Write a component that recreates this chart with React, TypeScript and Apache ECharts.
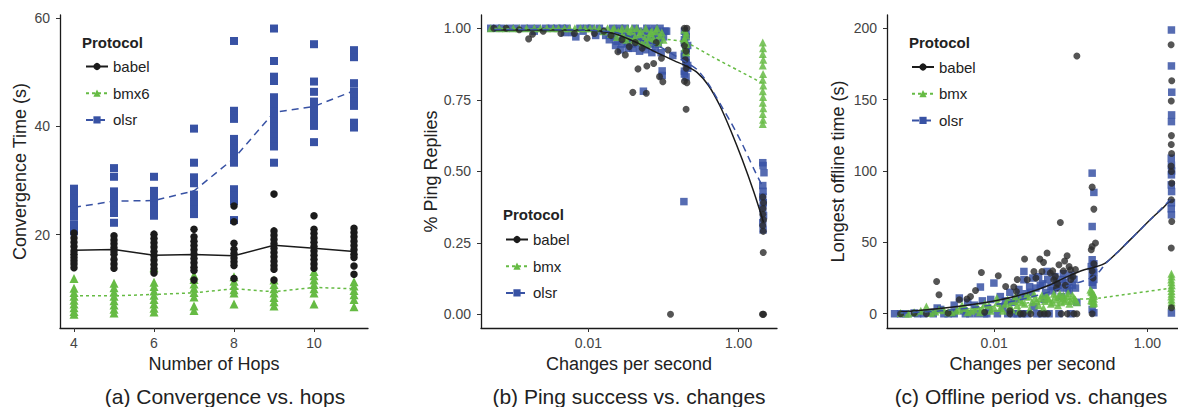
import React, { useEffect, useRef } from 'react';
import * as echarts from 'echarts';

const FONT = '"Liberation Sans", Arial, Helvetica, sans-serif';

// ---------- Panel (a): convergence vs hops ----------
const hopsA = [4, 5, 6, 7, 8, 9, 10, 11];
const babelMeanA = [17.1, 17.25, 16.2, 16.35, 16.1, 18.05, 17.5, 16.9];
const bmx6MeanA = [8.7, 8.7, 8.95, 9.25, 10.0, 9.45, 10.25, 10.0];
const olsrMeanA = [25.05, 26.2, 26.3, 28.1, 34.1, 42.6, 43.7, 46.6];

const babelRunsA = [
  [20.3, 19.4, 18.6, 17.8, 17.0, 16.4, 15.8, 15.2, 14.6, 13.9],
  [19.8, 19.0, 18.3, 17.6, 17.0, 16.4, 15.4, 14.6, 13.8],
  [20.1, 19.3, 18.5, 17.7, 16.9, 16.1, 15.3, 14.5, 13.7, 12.9],
  [21.0, 19.6, 18.8, 18.0, 17.2, 16.4, 15.6, 14.8, 14.0, 13.4, 11.6],
  [25.3, 22.4, 18.4, 17.3, 16.5, 15.7, 15.0, 14.3, 11.9],
  [27.5, 20.7, 19.9, 19.1, 18.3, 17.5, 16.7, 15.9, 15.1, 14.3, 13.6, 11.6],
  [23.5, 21.0, 20.2, 19.4, 18.6, 17.8, 17.0, 16.2, 15.4, 14.6, 13.8],
  [21.2, 20.4, 19.6, 18.8, 18.0, 17.2, 16.4, 15.8, 14.2, 12.7],
];
const bmx6RunsA = [
  [11.9, 10.1, 9.3, 8.6, 7.9, 7.2, 6.5, 5.8, 5.3],
  [11.0, 10.2, 9.4, 8.6, 7.8, 7.0, 6.2, 5.5],
  [13.9, 11.2, 10.4, 9.6, 8.8, 8.0, 7.2, 6.4, 5.7],
  [12.5, 11.7, 10.9, 10.1, 9.3, 8.5, 6.8, 6.0],
  [12.2, 11.4, 10.6, 9.8, 9.2, 7.2],
  [11.6, 10.8, 10.0, 9.2, 8.4, 7.6, 6.8],
  [13.2, 12.4, 11.6, 10.8, 10.0, 9.2, 7.2],
  [11.3, 10.5, 9.7, 8.9, 8.0, 6.7],
];
const olsrRunsA = [
  [28.5, 27.6, 26.7, 25.8, 24.9, 24.0, 23.3, 21.8, 20.6],
  [32.3, 30.7, 28.0, 27.1, 26.2, 25.3, 24.4, 24.0, 22.2],
  [30.7, 28.1, 27.2, 26.3, 25.4, 24.5, 23.5],
  [39.6, 33.3, 30.6, 29.5, 27.4, 26.5, 25.6, 24.7, 23.8],
  [55.8, 42.9, 42.0, 41.4, 37.7, 36.8, 35.9, 35.0, 34.1, 33.3, 28.4, 27.3, 26.2, 22.7],
  [58.1, 52.1, 49.2, 48.4, 45.4, 44.5, 43.6, 42.7, 41.8, 40.9, 40.0, 39.1, 38.2, 37.3, 36.3, 33.3],
  [55.2, 48.3, 46.4, 44.6, 43.7, 42.8, 41.9, 41.0, 40.1, 37.1],
  [54.1, 52.8, 48.0, 46.5, 45.6, 44.7, 43.8, 40.7, 39.8],
];
const ticksXA = [4, 6, 8, 10];
const ticksYA = [20, 40, 60];

// ---------- Panel (b): ping success vs changes ----------
const babelFitB = [
  [0.00056, 0.994], [0.008, 0.994], [0.022, 0.982], [0.0456, 0.948], [0.084, 0.913],
  [0.14, 0.886], [0.2, 0.868], [0.282, 0.845], [0.398, 0.8], [0.562, 0.73],
  [0.794, 0.64], [1.122, 0.54], [1.585, 0.43], [2.15, 0.322],
];
const olsrFitB = [
  [0.00056, 0.996], [0.008, 0.994], [0.022, 0.986], [0.046, 0.962], [0.09, 0.935],
  [0.14, 0.905], [0.2, 0.882], [0.282, 0.855], [0.398, 0.805], [0.562, 0.738],
  [0.794, 0.67], [1.122, 0.595], [1.585, 0.51], [2.15, 0.44],
];
const bmxFitB = [
  [0.00056, 0.999], [0.01, 0.996], [0.03, 0.986], [0.06, 0.974], [0.1, 0.963],
  [0.2, 0.95], [0.45, 0.9], [1.0, 0.852], [2.15, 0.806],
];
const babelPtsB = [
  [0.00055, 1.0], [0.0008, 1.0], [0.0012, 0.995], [0.0016, 0.963], [0.0018, 0.979],
  [0.0025, 0.99], [0.0043, 0.982], [0.0065, 0.982], [0.0096, 0.965], [0.012, 0.982],
  [0.016, 0.99], [0.02, 0.975], [0.0247, 0.918], [0.028, 0.96], [0.031, 0.907],
  [0.035, 0.936], [0.039, 0.776], [0.042, 0.95], [0.0457, 0.858], [0.052, 0.93],
  [0.059, 0.773], [0.06, 0.868], [0.074, 0.877], [0.08, 0.95], [0.0886, 0.831],
  [0.094, 0.895], [0.098, 0.813], [0.115, 0.924], [0.124, 0.0],
  [0.19, 1.0], [0.205, 1.0], [0.19, 0.94], [0.2, 0.92], [0.195, 0.89], [0.2, 0.86],
  [0.19, 0.815], [0.205, 0.81], [0.2, 0.717],
  [2.1, 0.41], [2.15, 0.39], [2.12, 0.37], [2.1, 0.35], [2.15, 0.33], [2.1, 0.31],
  [2.13, 0.29], [2.13, 0.216], [2.08, 0.0], [2.12, 0.0], [2.15, 0.0],
];
const olsrPtsB = [
  [0.0005, 1], [0.0006, 1], [0.0007, 1], [0.0009, 1], [0.0011, 1], [0.0014, 1], [0.0017, 1],
  [0.0019, 0.99], [0.0021, 1], [0.0027, 1], [0.0032, 1], [0.0038, 1], [0.0045, 1],
  [0.0048, 0.985], [0.0052, 1], [0.006, 0.985], [0.0068, 0.97], [0.0077, 1], [0.0085, 0.99],
  [0.0095, 1], [0.011, 1], [0.0125, 0.975], [0.014, 1], [0.0155, 0.99], [0.017, 0.975],
  [0.019, 0.96], [0.021, 1], [0.022, 0.97], [0.023, 0.94], [0.024, 0.955], [0.025, 0.99],
  [0.026, 1], [0.027, 0.925], [0.028, 0.945], [0.029, 0.97], [0.03, 0.985], [0.031, 1],
  [0.032, 0.965], [0.033, 0.95], [0.034, 0.93], [0.036, 0.985], [0.037, 0.96], [0.039, 0.93],
  [0.04, 0.975], [0.042, 1], [0.043, 0.945], [0.045, 0.96], [0.047, 0.99], [0.048, 0.92],
  [0.05, 0.95], [0.052, 0.985], [0.054, 0.78], [0.055, 0.965], [0.056, 0.94], [0.058, 0.925],
  [0.06, 1], [0.062, 0.99], [0.065, 0.97], [0.067, 0.945], [0.07, 0.915], [0.072, 0.97],
  [0.075, 1], [0.078, 0.93], [0.08, 0.98], [0.083, 0.99], [0.085, 0.945], [0.088, 0.96],
  [0.09, 1], [0.093, 0.915], [0.096, 0.851], [0.096, 0.835], [0.1, 0.97], [0.105, 0.99],
  [0.11, 0.99], [0.133, 0.905],
  [0.19, 0.99], [0.2, 0.98], [0.2, 0.97], [0.19, 0.96], [0.19, 0.95], [0.21, 0.94],
  [0.2, 0.93], [0.2, 0.92], [0.19, 0.91], [0.19, 0.9], [0.2, 0.89], [0.2, 0.88],
  [0.21, 0.87], [0.21, 0.86], [0.19, 0.85], [0.19, 0.84], [0.2, 0.83], [0.187, 0.394],
  [2.1, 0.53], [2.12, 0.52], [2.18, 0.495], [2.1, 0.45], [2.12, 0.43], [2.1, 0.41],
  [2.13, 0.39], [2.1, 0.37], [2.15, 0.345], [2.1, 0.32], [2.12, 0.295],
];
const bmxPtsB = [
  [0.0005, 1], [0.00065, 1], [0.0008, 1], [0.001, 1], [0.0012, 1], [0.0015, 1], [0.0019, 1],
  [0.0023, 1], [0.0028, 1], [0.0034, 1], [0.004, 1], [0.0048, 1], [0.0056, 1], [0.0066, 1],
  [0.0078, 1], [0.009, 1], [0.0105, 1], [0.012, 1], [0.014, 1], [0.016, 0.99], [0.018, 1],
  [0.02, 0.98], [0.021, 0.995], [0.022, 1], [0.024, 0.97], [0.025, 0.99], [0.027, 0.985],
  [0.028, 1], [0.03, 0.97], [0.032, 0.96], [0.033, 1], [0.035, 0.975], [0.036, 0.99],
  [0.038, 1], [0.04, 0.96], [0.042, 0.97], [0.044, 1], [0.046, 0.955], [0.048, 0.98],
  [0.05, 0.99], [0.053, 0.95], [0.056, 0.965], [0.058, 1], [0.061, 0.945], [0.064, 0.97],
  [0.067, 0.985], [0.07, 0.99], [0.073, 0.965], [0.076, 0.955], [0.079, 0.99], [0.082, 1],
  [0.086, 0.95], [0.09, 0.975], [0.095, 0.985], [0.1, 0.96],
  [0.19, 0.995], [0.2, 0.985], [0.2, 0.975], [0.19, 0.965], [0.19, 0.96], [0.2, 0.95],
  [0.2, 0.945], [0.195, 0.935], [0.195, 0.93], [0.2, 0.92], [0.2, 0.915],
  [2.1, 0.95], [2.12, 0.93], [2.1, 0.91], [2.13, 0.89], [2.1, 0.87], [2.12, 0.84],
  [2.1, 0.82], [2.13, 0.8], [2.1, 0.78], [2.12, 0.76], [2.1, 0.74], [2.13, 0.72],
  [2.1, 0.7], [2.12, 0.68], [2.1, 0.665],
];
const ticksXB = [0.01, 1];
const ticksYB = [0, 0.25, 0.5, 0.75, 1];

// ---------- Panel (c): offline period vs changes ----------
const babelFitC = [
  [0.0006, 1.2], [0.0018, 3.5], [0.0049, 6.3], [0.012, 9.8], [0.027, 14.5], [0.054, 20.3],
  [0.09, 26.0], [0.15, 30.8], [0.2, 32.5], [0.282, 35.5], [0.398, 42.5], [0.562, 50.5],
  [0.794, 58.5], [1.122, 66.5], [1.585, 74.0], [2.0, 79.5],
];
const olsrFitC = [
  [0.0006, 0.5], [0.002, 2.0], [0.005, 4.2], [0.012, 7.0], [0.027, 11.0], [0.054, 15.5],
  [0.09, 19.5], [0.13, 22.0], [0.19, 25.5], [0.24, 30.0], [0.282, 35.0], [0.398, 42.5],
  [0.562, 50.5], [0.794, 58.5], [1.122, 66.5], [1.585, 74.5], [2.0, 80.0],
];
const bmxFitC = [
  [0.0006, 0.5], [0.002, 2.0], [0.005, 3.5], [0.012, 5.5], [0.027, 7.5], [0.054, 9.0],
  [0.09, 10.0], [0.19, 10.5], [0.24, 11.0], [2.06, 18.0],
];
const babelPtsC = [
  [0.0006, 0], [0.0009, 0.5], [0.0013, 0], [0.00177, 22.6], [0.0019, 13.3], [0.0025, 0.5],
  [0.0035, 9.8], [0.0044, 10.3], [0.0049, 12.1], [0.0057, 16.3], [0.0068, 28.9],
  [0.0075, 1], [0.0113, 26.6], [0.0141, 19.1], [0.018, 18.7], [0.0195, 15.6],
  [0.0249, 38.3], [0.022, 0], [0.027, 23.8], [0.033, 29.6], [0.0394, 38.3], [0.042, 29.6],
  [0.049, 42.5], [0.054, 28.5], [0.045, 0], [0.06, 23.8], [0.07, 34.3], [0.073, 63.9],
  [0.08, 30], [0.0895, 40.6], [0.095, 33], [0.099, 30.8], [0.107, 26.1], [0.11, 0],
  [0.12, 180.6], [0.065, 18], [0.085, 20], [0.03, 0], [0.016, 0],
  [0.016, 2], [0.02, 24], [0.024, 0], [0.035, 25], [0.04, 0], [0.044, 36], [0.05, 0],
  [0.058, 30], [0.063, 26], [0.067, 21], [0.075, 0], [0.083, 37], [0.09, 0], [0.1, 24],
  [0.115, 31], [0.12, 0],
  [0.19, 88.7], [0.2, 73.3], [0.21, 49.5], [0.19, 47.1], [0.185, 44.8], [0.2, 35],
  [0.19, 30], [0.195, 25], [0.19, 0],
  [2.04, 188.4], [2.08, 163.2], [2.05, 149.1], [2.06, 124.8], [2.05, 118.6], [2.07, 112.2],
  [2.04, 103.4], [2.06, 99.7], [2.08, 91.5], [2.05, 79.8], [2.08, 64.6], [2.05, 46],
  [2.06, 4.2],
];
const olsrPtsC = [
  [0.0005, 0], [0.0006, 0], [0.0007, 0], [0.0009, 0.5], [0.001, 0], [0.0012, 0], [0.0015, 1],
  [0.0016, 0], [0.0018, 4], [0.002, 3], [0.0022, 0], [0.0025, 0], [0.0028, 0.5], [0.003, 6],
  [0.003, 0], [0.0035, 11], [0.004, 2], [0.0042, 0], [0.0045, 8], [0.0048, 0], [0.0055, 6],
  [0.006, 0], [0.0066, 18.7], [0.007, 9], [0.0075, 0], [0.008, 0], [0.0085, 3], [0.009, 10],
  [0.0099, 21.5], [0.011, 0], [0.012, 12], [0.013, 5], [0.014, 9], [0.015, 0], [0.016, 15],
  [0.017, 8], [0.018, 0], [0.019, 10], [0.02, 0], [0.021, 17], [0.022, 12], [0.023, 0],
  [0.0244, 29.6], [0.0244, 23.8], [0.026, 14], [0.027, 0], [0.029, 19], [0.03, 15],
  [0.032, 25], [0.033, 5], [0.035, 18], [0.036, 0], [0.038, 26], [0.04, 20], [0.042, 0],
  [0.043, 21], [0.045, 10], [0.047, 15], [0.049, 29.6], [0.05, 24], [0.052, 0], [0.055, 19],
  [0.058, 16], [0.062, 26], [0.065, 22], [0.068, 20], [0.07, 0], [0.073, 18], [0.075, 12],
  [0.078, 24], [0.08, 28], [0.085, 22], [0.09, 18], [0.095, 16], [0.1, 0], [0.1, 27],
  [0.105, 20], [0.11, 24], [0.115, 18], [0.12, 8],
  [0.19, 98.5], [0.2, 85], [0.19, 61.1], [0.19, 37.8], [0.2, 35], [0.185, 33], [0.195, 31],
  [0.2, 29], [0.19, 27], [0.2, 24], [0.19, 22], [0.195, 20], [0.2, 0.7], [0.19, 3],
  [2.06, 198.8], [2.06, 173.6], [2.08, 155.2], [2.07, 139.3], [2.06, 134.6], [2.05, 109],
  [2.06, 104], [2.07, 100], [2.06, 97.3], [2.05, 90.3], [2.07, 85.6], [2.06, 77.7],
  [2.05, 73.5], [2.06, 69.3], [2.06, 0.5],
];
const bmxPtsC = [
  [0.0006, 0.5], [0.00075, 0], [0.0009, 1], [0.0011, 2], [0.0013, 5.1], [0.0015, 0.5],
  [0.0017, 1.5], [0.0019, 3], [0.0022, 2.5], [0.0025, 1], [0.0028, 1], [0.0032, 2],
  [0.0035, 3], [0.0038, 6], [0.0042, 4], [0.0045, 1], [0.005, 2], [0.0055, 3], [0.006, 5],
  [0.0065, 1], [0.007, 3.5], [0.0075, 7], [0.0085, 6], [0.009, 2], [0.01, 4], [0.0108, 11],
  [0.011, 8], [0.012, 4], [0.013, 2], [0.014, 7], [0.015, 10], [0.016, 5], [0.017, 3],
  [0.018, 9], [0.019, 12], [0.02, 6], [0.021, 2], [0.022, 10], [0.023, 8], [0.025, 7],
  [0.026, 12], [0.028, 12], [0.029, 3], [0.031, 8], [0.033, 14], [0.034, 11], [0.036, 9],
  [0.038, 6], [0.04, 11], [0.042, 13], [0.044, 4], [0.046, 9], [0.048, 13], [0.05, 11],
  [0.052, 10], [0.055, 7], [0.058, 8], [0.06, 14], [0.062, 12], [0.065, 10], [0.068, 6],
  [0.07, 12], [0.072, 14], [0.075, 8], [0.078, 11], [0.08, 13], [0.083, 9], [0.086, 10],
  [0.09, 12], [0.092, 14.5], [0.096, 7], [0.1, 9], [0.105, 13], [0.11, 11], [0.115, 10],
  [0.12, 8],
  [0.18, 16.8], [0.185, 15.5], [0.19, 15], [0.195, 14], [0.2, 13.5], [0.2, 12.5],
  [0.19, 12], [0.19, 11], [0.2, 10.5], [0.185, 9.5], [0.19, 9], [0.2, 8.5], [0.2, 7.5],
  [0.195, 7],
  [2.06, 28], [2.07, 26], [2.05, 24], [2.06, 22], [2.08, 20], [2.05, 18], [2.06, 16],
  [2.07, 14], [2.05, 12], [2.06, 10], [2.07, 8], [2.06, 6],
];
const ticksXC = [0.01, 1];
const ticksYC = [0, 50, 100, 150, 200];

const legendA = ['babel', 'bmx6', 'olsr'];
const legendBC = ['babel', 'bmx', 'olsr'];
const captions = ['(a) Convergence vs. hops', '(b) Ping success vs. changes', '(c) Offline period vs. changes'];

const BLACK = '#1b1b1b';
const GREEN = '#66bb44';
const BLUE = '#3852a4';

function runsToPairs(runs: number[][]) {
  const out: number[][] = [];
  runs.forEach((vals, i) => vals.forEach((v) => out.push([hopsA[i], v])));
  return out;
}
function meanPairs(means: number[]) {
  return hopsA.map((h, i) => [h, means[i]]);
}

function lineS(name: string, data: number[][], idx: number, symbol: string, color: string, type: any, smooth: any) {
  return {
    type: 'line', name, xAxisIndex: idx, yAxisIndex: idx, data, symbol, symbolSize: 7,
    showSymbol: false, smooth, silent: true, z: 5,
    lineStyle: { color, width: 1.5, type }, itemStyle: { color },
  };
}
function scatS(name: string, data: number[][], idx: number, symbol: string, size: number, color: string, opacity: number) {
  return {
    type: 'scatter', name, xAxisIndex: idx, yAxisIndex: idx, data, symbol, symbolSize: size,
    silent: true, z: 2, itemStyle: { color, opacity },
  };
}

const axisLineStyle = { color: '#1a1a1a', width: 1.3 };
const labelStyle = { color: '#444', fontSize: 14, fontFamily: FONT };
const nameStyle = { color: '#222', fontSize: 18, fontFamily: FONT };

function xAxisDef(idx: number, opts: any, ticks: number[], fmt: (v: number) => string) {
  return {
    gridIndex: idx, nameLocation: 'middle', nameGap: 25, nameTextStyle: nameStyle,
    axisLine: { onZero: false, lineStyle: axisLineStyle },
    axisTick: { length: 4, lineStyle: { color: '#333' }, customValues: ticks },
    axisLabel: { ...labelStyle, margin: 8, customValues: ticks, formatter: fmt },
    splitLine: { show: false }, ...opts,
  };
}
function yAxisDef(idx: number, opts: any, ticks: number[], fmt: (v: number) => string) {
  return {
    gridIndex: idx, type: 'value', nameLocation: 'middle', nameTextStyle: nameStyle,
    axisLine: { show: true, onZero: false, lineStyle: axisLineStyle },
    axisTick: { show: true, length: 4, lineStyle: { color: '#333' }, customValues: ticks },
    axisLabel: { ...labelStyle, margin: 10, customValues: ticks, formatter: fmt },
    splitLine: { show: false }, ...opts,
  };
}
function legendDef(left: number, top: number, data: string[]) {
  return {
    orient: 'vertical', left, top, padding: 0, itemGap: 11.7, itemWidth: 22, itemHeight: 9,
    selectedMode: false, data,
    textStyle: { color: '#222', fontSize: 15, fontFamily: FONT, lineHeight: 15 },
  };
}

export default function App() {
  const ref = useRef<HTMLDivElement>(null);
  useEffect(() => {
    document.body.style.margin = '0';
    const chart = echarts.init(ref.current!, null, { renderer: 'svg' });
    const option: any = {
      animation: false,
      backgroundColor: '#ffffff',
      textStyle: { fontFamily: FONT },
      grid: [
        { left: 60, top: 15, width: 308, height: 313, outerBoundsMode: 'none' },
        { left: 481, top: 15, width: 296, height: 313, outerBoundsMode: 'none' },
        { left: 887, top: 15, width: 291, height: 313, outerBoundsMode: 'none' },
      ],
      xAxis: [
        xAxisDef(0, { type: 'value', min: 3.65, max: 11.35, name: 'Number of Hops' }, ticksXA, (v) => String(v)),
        xAxisDef(1, { type: 'log', logBase: 10, min: 0.000371, max: 3.25, name: 'Changes per second' }, ticksXB, (v) => Number(v).toFixed(2)),
        xAxisDef(2, { type: 'log', logBase: 10, min: 0.000398, max: 2.51, name: 'Changes per second' }, ticksXC, (v) => Number(v).toFixed(2)),
      ],
      yAxis: [
        yAxisDef(0, { min: 2.75, max: 60.6, name: 'Convergence Time (s)', nameGap: 31 }, ticksYA, (v) => String(v)),
        yAxisDef(1, { min: -0.048, max: 1.0465, name: '% Ping Replies', nameGap: 41 }, ticksYB, (v) => Number(v).toFixed(2)),
        yAxisDef(2, { min: -10, max: 209.3, name: 'Longest offline time (s)', nameGap: 40 }, ticksYC, (v) => String(v)),
      ],
      legend: [
        legendDef(85, 59, legendA),
        legendDef(505, 232, legendBC),
        legendDef(911, 59.5, legendBC),
      ],
      graphic: [
        { type: 'text', x: 82, y: 42, style: { text: 'Protocol', font: `bold 15px ${FONT}`, fill: '#222', verticalAlign: 'middle' } },
        { type: 'text', x: 503, y: 214, style: { text: 'Protocol', font: `bold 15px ${FONT}`, fill: '#222', verticalAlign: 'middle' } },
        { type: 'text', x: 909, y: 42, style: { text: 'Protocol', font: `bold 15px ${FONT}`, fill: '#222', verticalAlign: 'middle' } },
        { type: 'text', x: 225, y: 396, style: { text: captions[0], font: `21px ${FONT}`, fill: '#222', align: 'center', verticalAlign: 'middle' } },
        { type: 'text', x: 629, y: 396, style: { text: captions[1], font: `21px ${FONT}`, fill: '#222', align: 'center', verticalAlign: 'middle' } },
        { type: 'text', x: 1031, y: 396, style: { text: captions[2], font: `21px ${FONT}`, fill: '#222', align: 'center', verticalAlign: 'middle' } },
      ],
      series: [
        lineS('babel', meanPairs(babelMeanA), 0, 'circle', BLACK, 'solid', false),
        lineS('bmx6', meanPairs(bmx6MeanA), 0, 'triangle', GREEN, [3, 3], false),
        lineS('olsr', meanPairs(olsrMeanA), 0, 'rect', BLUE, [7, 5], false),
        lineS('babel', babelFitB, 1, 'circle', BLACK, 'solid', 0.25),
        lineS('bmx', bmxFitB, 1, 'triangle', GREEN, [3, 3], 0.25),
        lineS('olsr', olsrFitB, 1, 'rect', BLUE, [7, 5], 0.25),
        lineS('babel', babelFitC, 2, 'circle', BLACK, 'solid', 0.25),
        lineS('bmx', bmxFitC, 2, 'triangle', GREEN, [3, 3], 0.25),
        lineS('olsr', olsrFitC, 2, 'rect', BLUE, [7, 5], 0.25),
        scatS('olsr', runsToPairs(olsrRunsA), 0, 'rect', 8, BLUE, 1),
        scatS('bmx6', runsToPairs(bmx6RunsA), 0, 'triangle', 9, GREEN, 1),
        scatS('babel', runsToPairs(babelRunsA), 0, 'circle', 7.5, BLACK, 1),
        scatS('olsr', olsrPtsB, 1, 'rect', 7.5, BLUE, 0.85),
        scatS('bmx', bmxPtsB, 1, 'triangle', 8, GREEN, 0.85),
        scatS('babel', babelPtsB, 1, 'circle', 7, '#2a2a2a', 0.8),
        scatS('olsr', olsrPtsC, 2, 'rect', 7.5, BLUE, 0.85),
        scatS('bmx', bmxPtsC, 2, 'triangle', 8, GREEN, 0.85),
        scatS('babel', babelPtsC, 2, 'circle', 7, '#2a2a2a', 0.8),
      ],
    };
    chart.setOption(option);
    return () => chart.dispose();
  }, []);
  return <div ref={ref} style={{ width: 1178, height: 407 }} />;
}
